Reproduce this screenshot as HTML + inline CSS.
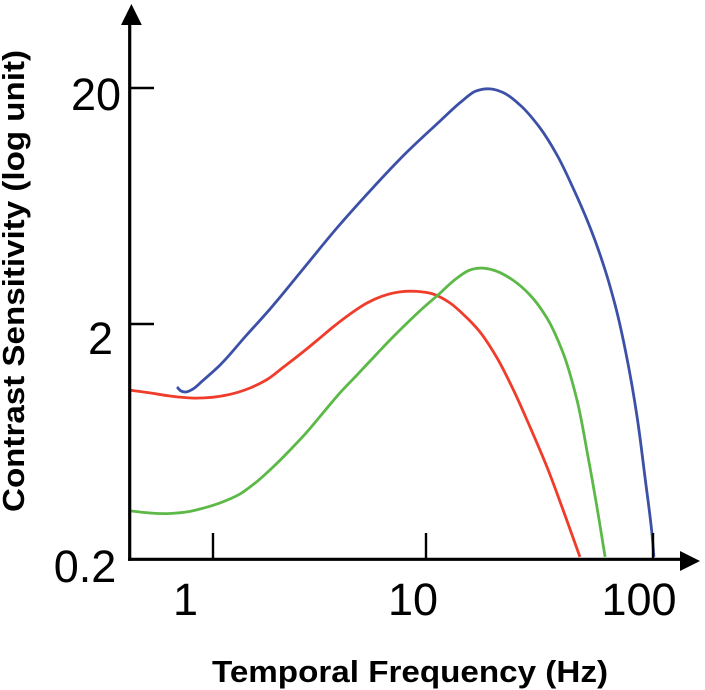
<!DOCTYPE html>
<html lang="en">
<head>
<meta charset="utf-8">
<title>Contrast Sensitivity vs Temporal Frequency</title>
<style>
  html, body { margin: 0; padding: 0; background: #fff; }
  svg { display: block; }
  text { font-family: "Liberation Sans", sans-serif; fill: #000; }
</style>
</head>
<body>
<svg id="chart" xmlns="http://www.w3.org/2000/svg" width="705" height="690" viewBox="0 0 705 690">
  <text transform="translate(24 281) rotate(-90)" text-anchor="middle" font-size="31" font-weight="700" textLength="462" lengthAdjust="spacingAndGlyphs">Contrast Sensitivity (log unit)</text>
  <text x="410" y="682" text-anchor="middle" font-size="31" font-weight="700" textLength="396" lengthAdjust="spacingAndGlyphs">Temporal Frequency (Hz)</text>
  <text x="96" y="110" text-anchor="middle" font-size="45">20</text>
  <text x="100.5" y="354" text-anchor="middle" font-size="45">2</text>
  <text x="85" y="582" text-anchor="middle" font-size="45">0.2</text>
  <text x="185.5" y="615" text-anchor="middle" font-size="45">1</text>
  <text x="413" y="615" text-anchor="middle" font-size="45">10</text>
  <text x="639" y="615" text-anchor="middle" font-size="45">100</text>
  <g id="series"></g>
  <g id="axes"></g>
</svg>
<script>
// Values are log10(frequency in Hz) and log10(contrast sensitivity).
const xTickValues = [0, 1, 2];
const yTickValues = [0.301, 1.301];

const blueLogFreq = [-0.169, -0.150, -0.127, -0.099, -0.047, 0.033, 0.150, 0.268, 0.423, 0.582, 0.737, 0.911, 1.062, 1.159, 1.220, 1.282, 1.339, 1.414, 1.502, 1.577, 1.648, 1.722, 1.789, 1.833, 1.885, 1.930, 1.965, 1.996, 2.004];
const blueLogSens = [0.034, 0.017, 0.013, 0.023, 0.062, 0.127, 0.246, 0.365, 0.534, 0.708, 0.865, 1.030, 1.161, 1.246, 1.288, 1.297, 1.282, 1.229, 1.132, 1.017, 0.877, 0.712, 0.530, 0.382, 0.157, -0.093, -0.352, -0.593, -0.686];

const redLogFreq = [-0.390, -0.296, -0.202, -0.080, 0.066, 0.174, 0.254, 0.329, 0.408, 0.488, 0.563, 0.643, 0.723, 0.798, 0.878, 0.958, 1.031, 1.106, 1.172, 1.238, 1.313, 1.383, 1.458, 1.533, 1.604, 1.678];
const redLogSens = [0.021, 0.009, -0.004, -0.013, 0.000, 0.030, 0.066, 0.117, 0.172, 0.231, 0.288, 0.343, 0.390, 0.420, 0.437, 0.439, 0.428, 0.390, 0.335, 0.267, 0.157, 0.026, -0.135, -0.305, -0.487, -0.686];

const greenLogFreq = [-0.390, -0.296, -0.202, -0.108, -0.061, 0.033, 0.127, 0.207, 0.282, 0.362, 0.441, 0.516, 0.596, 0.676, 0.751, 0.831, 0.911, 0.986, 1.053, 1.137, 1.194, 1.238, 1.295, 1.383, 1.458, 1.533, 1.604, 1.665, 1.714, 1.753, 1.789];
const greenLogSens = [-0.491, -0.500, -0.502, -0.493, -0.483, -0.457, -0.419, -0.366, -0.305, -0.233, -0.157, -0.076, 0.009, 0.085, 0.157, 0.233, 0.305, 0.369, 0.424, 0.496, 0.530, 0.538, 0.530, 0.487, 0.424, 0.326, 0.178, -0.021, -0.263, -0.474, -0.686];

const SVG_NS = "http://www.w3.org/2000/svg";

// Axis functions: the printed decades are not quite evenly spaced in the figure.
function xScale(v) {
  return v <= 1 ? 213 + 213 * v : 426 + 227 * (v - 1);
}
function yScale(v) {
  return 560 - 236 * (v + 0.699);
}

// Smooth curve through the points, with tangents that respect uneven point spacing.
function smoothPath(xs, ys) {
  const p = xs.map(function (x, i) { return [xScale(x), yScale(ys[i])]; });
  const n = p.length;
  const dist = function (a, b) { return Math.hypot(b[0] - a[0], b[1] - a[1]) || 1; };
  const tangents = p.map(function (pt, i) {
    if (i === 0 || i === n - 1) {
      const a = p[i === 0 ? 0 : n - 2], b = p[i === 0 ? 1 : n - 1], l = dist(a, b);
      return [(b[0] - a[0]) / l, (b[1] - a[1]) / l];
    }
    const l1 = dist(p[i - 1], pt), l2 = dist(pt, p[i + 1]);
    const tx = (pt[0] - p[i - 1][0]) / l1 * l2 + (p[i + 1][0] - pt[0]) / l2 * l1;
    const ty = (pt[1] - p[i - 1][1]) / l1 * l2 + (p[i + 1][1] - pt[1]) / l2 * l1;
    const m = Math.hypot(tx, ty) || 1;
    return [tx / m, ty / m];
  });
  let d = "M" + p[0][0].toFixed(1) + " " + p[0][1].toFixed(1);
  for (let i = 0; i < n - 1; i++) {
    const h = dist(p[i], p[i + 1]) / 3;
    d += "C" + (p[i][0] + tangents[i][0] * h).toFixed(1) + " " + (p[i][1] + tangents[i][1] * h).toFixed(1) +
         " " + (p[i + 1][0] - tangents[i + 1][0] * h).toFixed(1) + " " + (p[i + 1][1] - tangents[i + 1][1] * h).toFixed(1) +
         " " + p[i + 1][0].toFixed(1) + " " + p[i + 1][1].toFixed(1);
  }
  return d;
}

function make(tag, attrs, parent) {
  const el = document.createElementNS(SVG_NS, tag);
  Object.keys(attrs).forEach(function (k) { el.setAttribute(k, attrs[k]); });
  parent.appendChild(el);
  return el;
}

const seriesGroup = document.getElementById("series");
const axesGroup = document.getElementById("axes");
const curveStyle = { fill: "none", "stroke-width": 2.8, "stroke-linecap": "butt", "stroke-linejoin": "round" };

const blueCurve = make("path", Object.assign({ d: smoothPath(blueLogFreq, blueLogSens), stroke: "#3b50a6" }, curveStyle), seriesGroup);



const redCurve = make("path", Object.assign({ d: smoothPath(redLogFreq, redLogSens), stroke: "#f03c2b" }, curveStyle), seriesGroup);



const greenCurve = make("path", Object.assign({ d: smoothPath(greenLogFreq, greenLogSens), stroke: "#5cb948" }, curveStyle), seriesGroup);



const yAxisLine = make("line", { x1: 129.7, y1: 20, x2: 129.7, y2: 560.8, stroke: "#000", "stroke-width": 3.2 }, axesGroup);



const xAxisLine = make("line", { x1: 128, y1: 559.3, x2: 684, y2: 559.3, stroke: "#000", "stroke-width": 3.2 }, axesGroup);



const yArrow = make("polygon", { points: "131.4,4 121,25 141.8,25", fill: "#000" }, axesGroup);



const xArrow = make("polygon", { points: "700,561 680,551 680,571", fill: "#000" }, axesGroup);



xTickValues.forEach(function (v) {
  const tick = make("line", { x1: xScale(v), y1: 533, x2: xScale(v), y2: 559, stroke: "#000", "stroke-width": 2.4 }, axesGroup);
  
  
});

yTickValues.forEach(function (v) {
  const tick = make("line", { x1: 130, y1: yScale(v), x2: 154, y2: yScale(v), stroke: "#000", "stroke-width": 2.4 }, axesGroup);
  
  
});
</script>
</body>
</html>
